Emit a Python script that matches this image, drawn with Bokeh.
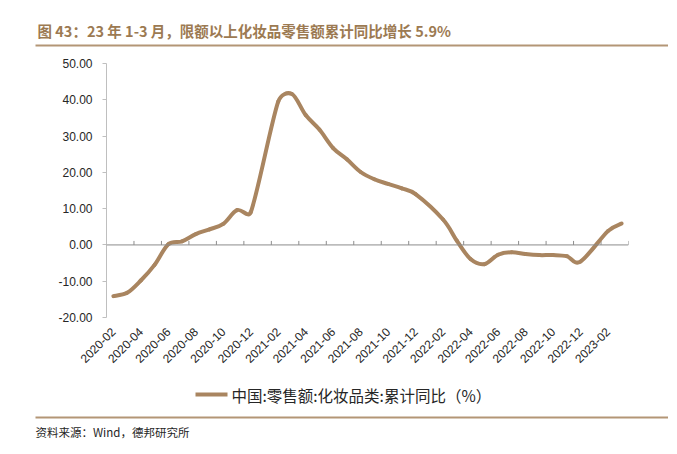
import math
from bokeh.plotting import figure
from bokeh.layouts import column
from bokeh.models import Range1d, FixedTicker, NumeralTickFormatter, Span
from bokeh.core.properties import value
from bokeh.embed import file_html
from bokeh.resources import INLINE

# ---- data ----
months = ["2020-02", "2020-03", "2020-04", "2020-05", "2020-06", "2020-07", "2020-08",
          "2020-09", "2020-10", "2020-11", "2020-12",
          "2021-02", "2021-03", "2021-04", "2021-05", "2021-06", "2021-07", "2021-08",
          "2021-09", "2021-10", "2021-11", "2021-12",
          "2022-02", "2022-03", "2022-04", "2022-05", "2022-06", "2022-07", "2022-08",
          "2022-09", "2022-10", "2022-11", "2022-12",
          "2023-02", "2023-03"]
values = [-14.1, -13.2, -9.8, -5.5, 0.2, 1.0, 3.0,
          4.3, 5.8, 9.6, 9.0,
          39.5, 41.6, 35.8, 31.8, 26.7, 23.6, 20.1,
          18.1, 16.8, 15.6, 14.0,
          7.0, 1.2, -3.9, -5.3, -2.7, -2.0, -2.5,
          -2.8, -2.8, -3.1, -4.6,
          3.8, 5.9]
y_ticks = [-20, -10, 0, 10, 20, 30, 40, 50]
x_tick_labels = ["2020-02", "2020-04", "2020-06", "2020-08", "2020-10", "2020-12",
                 "2021-02", "2021-04", "2021-06", "2021-08", "2021-10", "2021-12",
                 "2022-02", "2022-04", "2022-06", "2022-08", "2022-10", "2022-12",
                 "2023-02"]
title_text = "图 43：23 年 1-3 月，限额以上化妆品零售额累计同比增长 5.9%"
legend_text = "中国:零售额:化妆品类:累计同比（%）"
source_text = "资料来源：Wind，德邦研究所"

LINE = "#A98560"
TITLE_C = "#9C7A52"
RULE_C = "#B39676"
TEXT_C = "#262626"
CJK = "Noto Sans CJK SC"
W = 668


def month_index(m):
    y, mo = m.split("-")
    return (int(y) - 2020) * 12 + int(mo) - 2


xs = [month_index(m) for m in months]
ys = values
n = len(xs)

x_lo = month_index(months[0]) - 0.5
x_hi = month_index(months[-1]) + 0.5
FRAME_W, FRAME_H = 522, 254
kx = FRAME_W / (x_hi - x_lo)
ky = FRAME_H / (y_ticks[-1] - y_ticks[0])


# smoothed line (Excel-like bezier segments through the data points)
def tangent(i):
    a = max(i - 1, 0)
    b = min(i + 1, n - 1)
    return ((xs[b] - xs[a]) * kx / 6.0, (ys[b] - ys[a]) * ky / 6.0)


def capped(t, chord):
    L = math.hypot(t[0], t[1])
    lim = 0.5 * chord
    if L > lim and L > 0:
        return (t[0] * lim / L, t[1] * lim / L)
    return t


x0, y0, x1, y1, cx0, cy0, cx1, cy1 = [], [], [], [], [], [], [], []
for i in range(n - 1):
    chord = math.hypot((xs[i + 1] - xs[i]) * kx, (ys[i + 1] - ys[i]) * ky)
    t0 = capped(tangent(i), chord)
    t1 = capped(tangent(i + 1), chord)
    x0.append(xs[i]); y0.append(ys[i]); x1.append(xs[i + 1]); y1.append(ys[i + 1])
    cx0.append(xs[i] + t0[0] / kx); cy0.append(ys[i] + t0[1] / ky)
    cx1.append(xs[i + 1] - t1[0] / kx); cy1.append(ys[i + 1] - t1[1] / ky)


def blank(fig):
    fig.outline_line_color = None
    fig.xgrid.visible = False
    fig.ygrid.visible = False
    fig.title.visible = False
    fig.background_fill_color = "white"
    fig.border_fill_color = "white"


# ---- header: title and rule ----
HH = 50
ph = figure(width=W, height=HH, x_range=Range1d(0, W), y_range=Range1d(HH, 0),
            output_backend="svg", toolbar_location=None, min_border=0,
            x_axis_location=None, y_axis_location=None, frame_align=False)
blank(ph)
ph.text(x=[37], y=[30], text=[title_text], text_font=value(CJK),
        text_font_size=value("14.5px"), text_font_style="bold", text_color=TITLE_C,
        text_baseline="middle", text_align="left")
ph.segment(x0=[35], y0=[45], x1=[W], y1=[45], line_color=RULE_C, line_width=2)

# ---- main chart ----
MH = 330
p = figure(width=W, height=MH, output_backend="svg", toolbar_location=None,
           x_range=Range1d(x_lo, x_hi), y_range=Range1d(y_ticks[0], y_ticks[-1]),
           min_border_left=106, min_border_right=W - 106 - FRAME_W,
           min_border_top=13, min_border_bottom=MH - 13 - FRAME_H, frame_align=False)
blank(p)

ya = p.yaxis[0]
ya.ticker = FixedTicker(ticks=y_ticks)
ya.formatter = NumeralTickFormatter(format="0.00")
ya.axis_line_color = "#BFBFBF"
ya.major_tick_line_color = "#BFBFBF"
ya.major_tick_out = 4
ya.major_tick_in = 0
ya.minor_tick_line_color = None
ya.major_label_text_font = "Liberation Sans"
ya.major_label_text_font_size = "12px"
ya.major_label_text_color = TEXT_C
ya.major_label_standoff = 10

xa = p.xaxis[0]
xt = [month_index(l) for l in x_tick_labels]
xa.ticker = FixedTicker(ticks=xt)
xa.major_label_overrides = {t: l for t, l in zip(xt, x_tick_labels)}
xa.major_label_orientation = math.pi / 4
xa.axis_line_color = None
xa.major_tick_line_color = None
xa.minor_tick_line_color = None
xa.major_label_text_font = "Liberation Sans"
xa.major_label_text_font_size = "12px"
xa.major_label_text_color = TEXT_C
xa.major_label_standoff = 6

p.add_layout(Span(location=0, dimension="width", line_color="#8C8C8C", line_width=1))
bounds = [month_index(l) - 0.5 for l in x_tick_labels[1:]] + [x_hi]
tick_len = 4 / ky
p.segment(x0=bounds, y0=[0] * len(bounds), x1=bounds, y1=[tick_len] * len(bounds),
          line_color="#8C8C8C", line_width=1)

p.bezier(x0=x0, y0=y0, x1=x1, y1=y1, cx0=cx0, cy0=cy0, cx1=cx1, cy1=cy1,
         line_color=LINE, line_width=4, line_cap="round")

# ---- footer: legend, rule, source ----
FH = 66
pf = figure(width=W, height=FH, x_range=Range1d(0, W), y_range=Range1d(FH, 0),
            output_backend="svg", toolbar_location=None, min_border=0,
            x_axis_location=None, y_axis_location=None, frame_align=False)
blank(pf)
pf.segment(x0=[195], y0=[14], x1=[227], y1=[14], line_color=LINE, line_width=4)
pf.text(x=[231], y=[14], text=[legend_text], text_font=value(CJK),
        text_font_size=value("15.5px"), text_color=TEXT_C,
        text_baseline="middle", text_align="left")
pf.segment(x0=[35], y0=[37], x1=[W], y1=[37], line_color=RULE_C, line_width=2)
pf.text(x=[35], y=[51], text=[source_text], text_font=value(CJK),
        text_font_size=value("11.5px"), text_color=TEXT_C,
        text_baseline="middle", text_align="left")

layout = column(ph, p, pf, spacing=0)
open("out.html", "w").write(file_html(layout, INLINE))
